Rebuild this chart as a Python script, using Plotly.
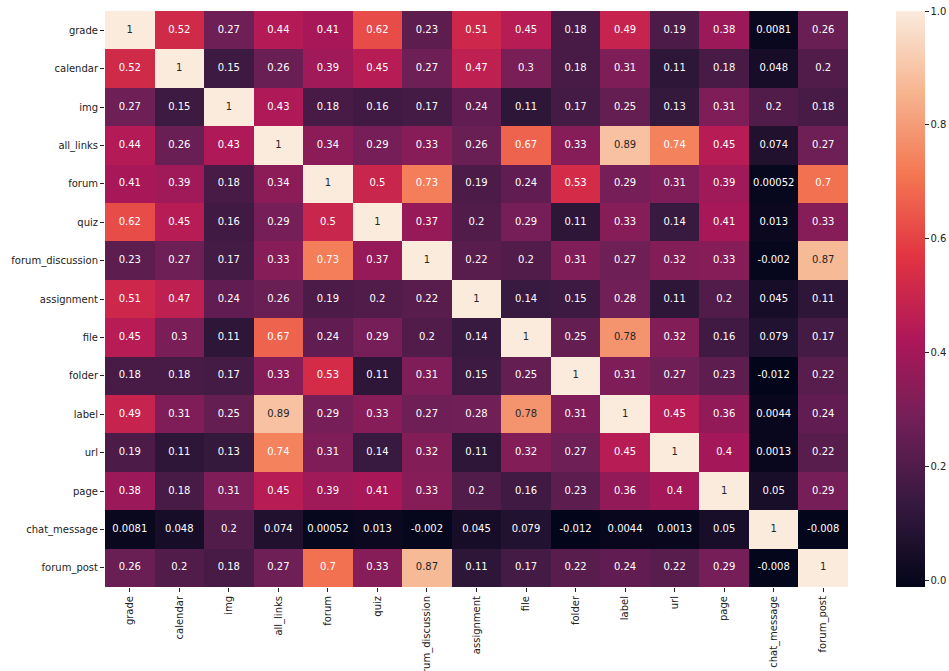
import plotly.graph_objects as go

labels = ["grade", "calendar", "img", "all_links", "forum", "quiz", "forum_discussion",
          "assignment", "file", "folder", "label", "url", "page", "chat_message", "forum_post"]

grade = [1, 0.52, 0.27, 0.44, 0.41, 0.62, 0.23, 0.51, 0.45, 0.18, 0.49, 0.19, 0.38, 0.0081, 0.26]
calendar = [0.52, 1, 0.15, 0.26, 0.39, 0.45, 0.27, 0.47, 0.3, 0.18, 0.31, 0.11, 0.18, 0.048, 0.2]
img = [0.27, 0.15, 1, 0.43, 0.18, 0.16, 0.17, 0.24, 0.11, 0.17, 0.25, 0.13, 0.31, 0.2, 0.18]
all_links = [0.44, 0.26, 0.43, 1, 0.34, 0.29, 0.33, 0.26, 0.67, 0.33, 0.89, 0.74, 0.45, 0.074, 0.27]
forum = [0.41, 0.39, 0.18, 0.34, 1, 0.5, 0.73, 0.19, 0.24, 0.53, 0.29, 0.31, 0.39, 0.00052, 0.7]
quiz = [0.62, 0.45, 0.16, 0.29, 0.5, 1, 0.37, 0.2, 0.29, 0.11, 0.33, 0.14, 0.41, 0.013, 0.33]
forum_discussion = [0.23, 0.27, 0.17, 0.33, 0.73, 0.37, 1, 0.22, 0.2, 0.31, 0.27, 0.32, 0.33, -0.002, 0.87]
assignment = [0.51, 0.47, 0.24, 0.26, 0.19, 0.2, 0.22, 1, 0.14, 0.15, 0.28, 0.11, 0.2, 0.045, 0.11]
file_ = [0.45, 0.3, 0.11, 0.67, 0.24, 0.29, 0.2, 0.14, 1, 0.25, 0.78, 0.32, 0.16, 0.079, 0.17]
folder = [0.18, 0.18, 0.17, 0.33, 0.53, 0.11, 0.31, 0.15, 0.25, 1, 0.31, 0.27, 0.23, -0.012, 0.22]
label = [0.49, 0.31, 0.25, 0.89, 0.29, 0.33, 0.27, 0.28, 0.78, 0.31, 1, 0.45, 0.36, 0.0044, 0.24]
url = [0.19, 0.11, 0.13, 0.74, 0.31, 0.14, 0.32, 0.11, 0.32, 0.27, 0.45, 1, 0.4, 0.0013, 0.22]
page = [0.38, 0.18, 0.31, 0.45, 0.39, 0.41, 0.33, 0.2, 0.16, 0.23, 0.36, 0.4, 1, 0.05, 0.29]
chat_message = [0.0081, 0.048, 0.2, 0.074, 0.00052, 0.013, -0.002, 0.045, 0.079, -0.012, 0.0044, 0.0013, 0.05, 1, -0.008]
forum_post = [0.26, 0.2, 0.18, 0.27, 0.7, 0.33, 0.87, 0.11, 0.17, 0.22, 0.24, 0.22, 0.29, -0.008, 1]

z = [grade, calendar, img, all_links, forum, quiz, forum_discussion, assignment,
     file_, folder, label, url, page, chat_message, forum_post]

rocket = [
    [0.0, "#03051a"],
    [1 / 7, "#35193e"],
    [2 / 7, "#701f57"],
    [3 / 7, "#ad1759"],
    [4 / 7, "#e13342"],
    [5 / 7, "#f37651"],
    [6 / 7, "#f6b48f"],
    [1.0, "#faebdd"],
]

zmin, zmax = -0.012, 1.0
n = len(labels)

fig = go.Figure()
fig.add_trace(go.Heatmap(
    z=z, x=labels, y=labels, colorscale=rocket, zmin=zmin, zmax=zmax,
    hoverinfo="skip",
    colorbar=dict(
        x=1.0646, xanchor="left", xref="paper", xpad=0,
        y=1.0, yanchor="top", ypad=0,
        len=1.0, lenmode="fraction", thickness=29, thicknessmode="pixels",
        outlinewidth=0, tickvals=[0, 0.2, 0.4, 0.6, 0.8, 1.0],
        ticktext=["0.0", "0.2", "0.4", "0.6", "0.8", "1.0"],
        ticks="outside", ticklen=4, tickwidth=1, tickcolor="#222",
        tickfont=dict(family="DejaVu Sans", size=10, color="#222"),
    ),
))

xs, ys, txt, cols = [], [], [], []
for i, rl in enumerate(labels):
    for j, cl in enumerate(labels):
        v = z[i][j]
        xs.append(cl)
        ys.append(rl)
        txt.append(format(v, ".2g"))
        cols.append("#262626" if v >= 0.77 else "#ffffff")

fig.add_trace(go.Scatter(
    x=xs, y=ys, mode="text", text=txt,
    textfont=dict(family="DejaVu Sans", size=10, color=cols),
    hoverinfo="skip", showlegend=False,
))

fig.update_xaxes(
    type="category", range=[-0.5, n - 0.5], autorange=False,
    tickangle=-90, ticks="outside", ticklen=4, tickcolor="#222",
    tickfont=dict(family="DejaVu Sans", size=10, color="#222"),
    showgrid=False, zeroline=False, showline=False, automargin=False,
)
fig.update_yaxes(
    type="category", range=[n - 0.5, -0.5], autorange=False,
    ticks="outside", ticklen=4, tickcolor="#222",
    tickfont=dict(family="DejaVu Sans", size=10, color="#222"),
    showgrid=False, zeroline=False, showline=False, automargin=False,
)

fig.update_layout(
    width=949, height=671,
    margin=dict(l=105, r=101, t=11, b=84, autoexpand=False),
    paper_bgcolor="white", plot_bgcolor="white",
    showlegend=False,
)

fig.write_html(
    "out.html",
    config={"displayModeBar": False},
    post_script="document.body.style.margin='0';document.body.style.overflow='hidden';",
)
